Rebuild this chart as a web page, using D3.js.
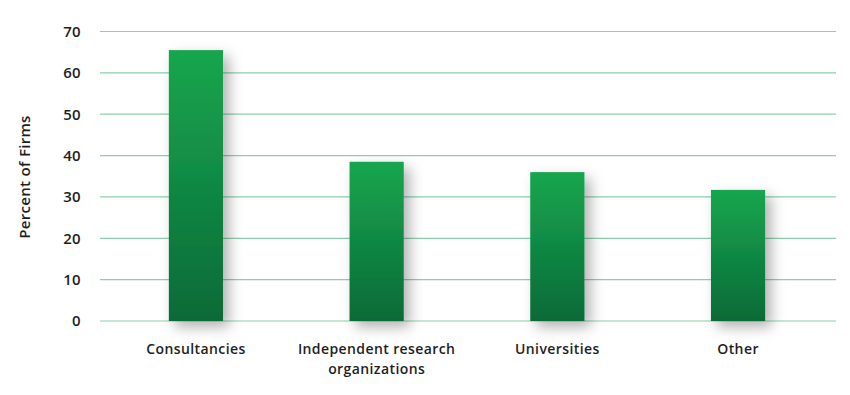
<!DOCTYPE html>
<html lang="en">
<head>
  <meta charset="UTF-8">
  <title>Percent of Firms</title>
  <script src="https://d3js.org/d3.v7.min.js"></script>
  <style>
    body {
      margin: 0;
      background: #ffffff;
      font-family: "Open Sans", Lato, sans-serif;
    }
    .tick-label {
      font-size: 15px;
      fill: #1e1e1e;
      font-weight: 600;
      letter-spacing: 0.3px;
    }
    .cat-label {
      font-size: 14px;
      fill: #1e1e1e;
      font-weight: 600;
      letter-spacing: 0.4px;
    }
  </style>
</head>
<body>
<div id="chart"></div>
<script>
const categories = ["Consultancies", "Independent research organizations", "Universities", "Other"];
const categoryLines = [["Consultancies"], ["Independent research", "organizations"], ["Universities"], ["Other"]];
const percentValues = [65.5, 38.5, 36, 31.7];
const yTicks = [0, 10, 20, 30, 40, 50, 60, 70];

const W = 850, H = 395;
const svg = d3.select("#chart").append("svg")
    .attr("width", W)
    .attr("height", H);

// gradient + shadow
const defs = svg.append("defs");
const grad = defs.append("linearGradient")
    .attr("id", "barGrad")
    .attr("x1", 0).attr("y1", 0).attr("x2", 0).attr("y2", 1);
grad.append("stop").attr("offset", "0%").attr("stop-color", "#16a64f");
grad.append("stop").attr("offset", "100%").attr("stop-color", "#0c6a37");

const shadow = defs.append("filter")
    .attr("id", "barShadow")
    .attr("x", "-50%").attr("y", "-20%")
    .attr("width", "200%").attr("height", "150%");
shadow.append("feDropShadow")
    .attr("dx", 6).attr("dy", 6)
    .attr("stdDeviation", 7)
    .attr("flood-color", "#000")
    .attr("flood-opacity", 0.3);

const y = d3.scaleLinear()
    .domain([0, 70])
    .range([321, 31.5]);

const x = d3.scaleBand()
    .domain(categories)
    .range([105.6, 828.4])
    .paddingInner(0.7)
    .paddingOuter(0.35);

// gridlines
svg.append("g")
  .selectAll("line")
  .data(yTicks)
  .join("line")
    .attr("x1", 100)
    .attr("x2", 836)
    .attr("y1", d => y(d))
    .attr("y2", d => y(d))
    .attr("stroke", "#8ccfae")
    .attr("stroke-width", 1.2);

// y tick labels
svg.append("g")
  .selectAll("text")
  .data(yTicks)
  .join("text")
    .attr("class", "tick-label")
    .attr("x", 81)
    .attr("y", d => y(d))
    .attr("dy", "0.36em")
    .attr("text-anchor", "end")
    .text(d => d);

// y title
svg.append("text")
    .attr("class", "tick-label")
    .attr("transform", "translate(30,177) rotate(-90)")
    .attr("text-anchor", "middle")
    .text("Percent of Firms");

// bars
svg.append("g")
  .selectAll("rect")
  .data(percentValues)
  .join("rect")
    .attr("x", (d, i) => x(categories[i]))
    .attr("width", x.bandwidth())
    .attr("y", d => y(d))
    .attr("height", d => y(0) - y(d))
    .attr("fill", "url(#barGrad)")
    .attr("filter", "url(#barShadow)");

// category labels, one text per line
const catLines = [];
categories.forEach((c, i) => {
  categoryLines[i].forEach((t, j) => catLines.push({ cat: c, text: t, line: j }));
});

svg.append("g")
  .selectAll("text")
  .data(catLines)
  .join("text")
    .attr("class", "cat-label")
    .attr("text-anchor", "middle")
    .attr("x", d => x(d.cat) + x.bandwidth() / 2)
    .attr("y", d => 354 + d.line * 19.5)
    .text(d => d.text);
</script>
</body>
</html>
